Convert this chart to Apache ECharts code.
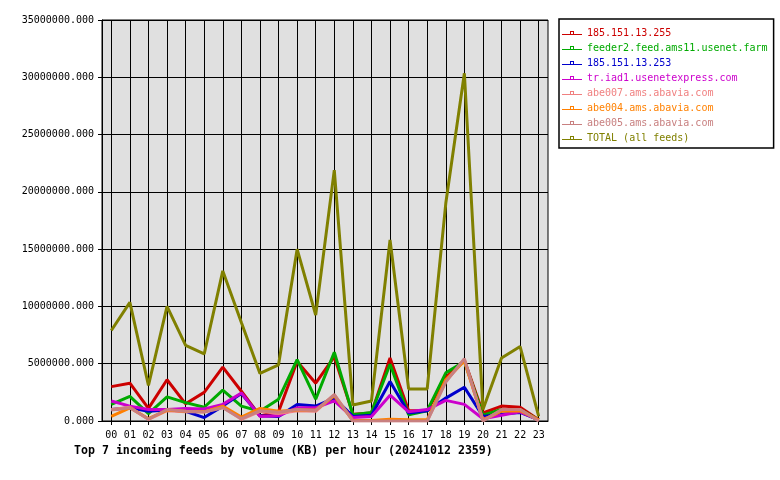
<!DOCTYPE html>
<html>
<head>
<meta charset="utf-8">
<script src="https://cdn.jsdelivr.net/npm/echarts@6/dist/echarts.min.js"></script>
<style>html,body{margin:0;padding:0;background:#fff}#c{width:780px;height:480px}</style>
</head>
<body>
<div id="c"></div>
<script>
var hours = ['00','01','02','03','04','05','06','07','08','09','10','11','12','13','14','15','16','17','18','19','20','21','22','23'];
var yTicks = [0, 5000000, 10000000, 15000000, 20000000, 25000000, 30000000, 35000000];
var seriesNames = ['185.151.13.255','feeder2.feed.ams11.usenet.farm','185.151.13.253','tr.iad1.usenetexpress.com','abe007.ams.abavia.com','abe004.ams.abavia.com','abe005.ams.abavia.com','TOTAL (all feeds)'];
var seriesColors = ['#cc0000','#00aa00','#0000cc','#cc00cc','#f08080','#ff8000','#c88080','#808000'];

var feed255 = [3000000,3300000,1100000,3600000,1500000,2500000,4700000,2600000,450000,800000,5200000,3300000,5600000,600000,700000,5500000,900000,900000,3800000,5300000,700000,1300000,1200000,100000];
var feeder2 = [1450000,2150000,650000,2100000,1600000,1200000,2700000,1300000,850000,1900000,5350000,1900000,6000000,550000,750000,4950000,550000,900000,4200000,5200000,500000,1000000,1000000,100000];
var feed253 = [1000000,1150000,850000,950000,850000,300000,1300000,2400000,450000,400000,1450000,1300000,2000000,400000,500000,3450000,700000,900000,2000000,2950000,400000,600000,750000,100000];
var iad1 = [1750000,1300000,1000000,1000000,1100000,1050000,1450000,2450000,400000,450000,1150000,1150000,1750000,300000,400000,2250000,800000,1000000,1800000,1450000,200000,500000,800000,100000];
var abe007 = [1000000,1200000,150000,900000,800000,800000,1200000,150000,850000,650000,900000,850000,2300000,20000,20000,20000,20000,20000,3500000,5300000,50000,900000,1000000,50000];
var abe004 = [400000,1150000,200000,950000,850000,800000,1300000,350000,1100000,850000,950000,950000,2200000,50000,50000,150000,100000,100000,3600000,5250000,100000,850000,900000,100000];
var abe005 = [950000,1150000,150000,1000000,850000,780000,1150000,200000,900000,770000,1000000,920000,2300000,0,0,0,0,0,3400000,5450000,0,1000000,1000000,0];
var total = [7900000,10350000,3100000,10000000,6600000,5850000,13100000,8600000,4150000,4900000,15000000,9250000,21900000,1400000,1750000,15800000,2800000,2800000,19000000,30350000,1000000,5500000,6500000,400000];

var values = [feed255, feeder2, feed253, iad1, abe007, abe004, abe005, total];
var FONT = '"DejaVu Sans Mono", monospace';

var chart = echarts.init(document.getElementById('c'), null, {renderer: 'canvas'});
var plotL = 102, plotW = 446, plotT = 20, plotH = 401;
var band = plotW / hours.length;

var series = values.map(function (d, i) {
  return {
    name: seriesNames[i],
    type: 'line',
    xAxisIndex: 1,
    yAxisIndex: 1,
    data: d,
    symbol: 'none',
    lineStyle: {width: 3, color: seriesColors[i]},
    itemStyle: {color: seriesColors[i]},
    color: seriesColors[i],
    z: 3 + i
  };
});

chart.setOption({
  animation: false,
  backgroundColor: '#ffffff',
  title: {
    text: 'Top 7 incoming feeds by volume (KB) per hour (20241012 2359)',
    left: 74, top: 445, padding: 0,
    textStyle: {fontFamily: FONT, fontWeight: 'bold', fontSize: 11.6, color: '#000'}
  },
  legend: {
    orient: 'vertical',
    left: 559, top: 19,
    padding: [8, 6, 4, 3],
    borderColor: '#000', borderWidth: 1.5,
    itemWidth: 20, itemHeight: 6, itemGap: 3,
    icon: 'path://M0,4L20,4L20,5L0,5Z M8,1L12,1L12,4L11,4L11,2L9,2L9,4L8,4Z',
    selectedMode: false,
    textStyle: {fontFamily: FONT, fontSize: 10, lineHeight: 12},
    data: seriesNames.map(function (n, i) { return {name: n, textStyle: {color: seriesColors[i]}}; })
  },
  grid: [
    {left: plotL, top: plotT, width: plotW, height: plotH, show: true, backgroundColor: '#e0e0e0', borderColor: '#000', borderWidth: 1},
    {left: plotL + band / 2, top: plotT, width: plotW - band, height: plotH, show: false}
  ],
  xAxis: [
    {gridIndex: 0, type: 'value', min: 0, max: 1, show: true,
     axisLine: {show: true, lineStyle: {color: '#000', width: 1}}, axisTick: {show: false}, axisLabel: {show: false}, splitLine: {show: false}},
    {gridIndex: 1, type: 'category', data: hours, boundaryGap: false,
     axisLine: {show: false},
     axisTick: {show: true, length: 4, lineStyle: {color: '#000'}},
     axisLabel: {fontFamily: FONT, fontSize: 10, color: '#000', margin: 9, interval: 0},
     splitLine: {show: true, lineStyle: {color: '#000', width: 1}}}
  ],
  yAxis: [
    {gridIndex: 0, type: 'value', min: yTicks[0], max: yTicks[yTicks.length - 1], interval: yTicks[1] - yTicks[0],
     axisLine: {show: true, lineStyle: {color: '#000'}},
     axisTick: {show: true, length: 4, lineStyle: {color: '#000'}},
     axisLabel: {fontFamily: FONT, fontSize: 10, color: '#000', margin: 8, formatter: function (v) { return v.toFixed(3); }},
     splitLine: {show: true, lineStyle: {color: '#000', width: 1}}},
    {gridIndex: 1, type: 'value', min: yTicks[0], max: yTicks[yTicks.length - 1], show: false, splitLine: {show: false}}
  ],
  series: series
});
</script>
</body>
</html>
